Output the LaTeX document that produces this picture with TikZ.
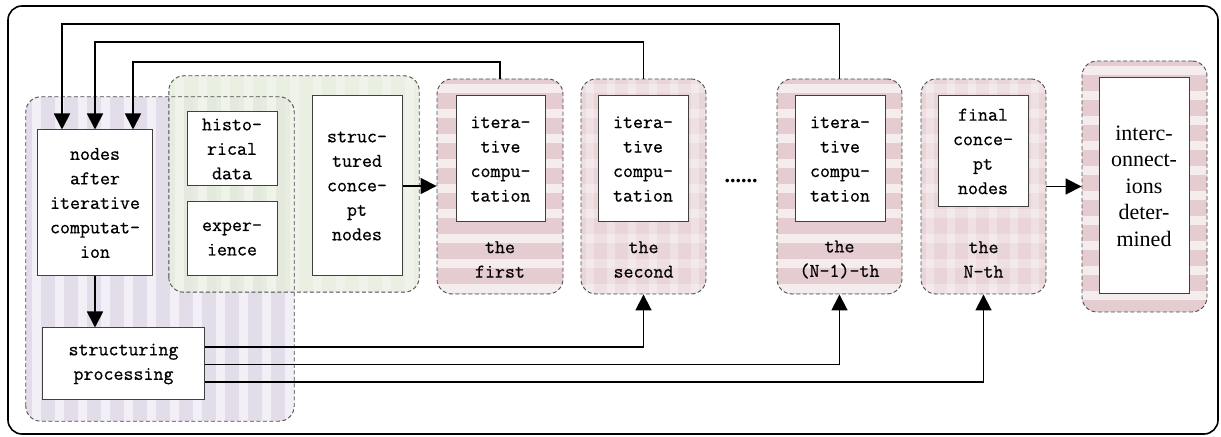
\documentclass[tikz,border=0pt]{standalone}
\usepackage{fontspec}
\newfontfamily\timesfont{Liberation Serif}
\newfontfamily\monoface[FakeBold=0.7]{Latin Modern Mono}
\usetikzlibrary{arrows.meta}

\definecolor{lilacA}{RGB}{226,221,233}
\definecolor{lilacB}{RGB}{242,239,246}
\definecolor{sageA}{RGB}{229,236,220}
\definecolor{sageB}{RGB}{241,245,236}
\definecolor{roseA}{RGB}{229,204,208}
\definecolor{roseB}{RGB}{245,236,238}
\definecolor{roseC}{RGB}{233,213,216}

\newcommand\mono{\monoface\fontsize{19.4bp}{24.5bp}\selectfont}
\newcommand\serifbig{\timesfont\fontsize{22bp}{26.5bp}\selectfont}

\tikzset{
  frame/.style={draw=black, line width=1.6bp, rounded corners=14bp},
  grpline/.style={draw=black!70, line width=0.9bp, dash pattern=on 4bp off 2.5bp, rounded corners=15bp},
  grp/.style={inner sep=0pt, rounded corners=15bp, draw=black!70, line width=0.9bp,
              dash pattern=on 4bp off 2.5bp},
  box/.style={draw=black!75, line width=1bp, fill=white, inner sep=0pt, align=center, font=\mono},
  lbl/.style={inner sep=0pt, align=center, font=\mono},
  conn/.style={line width=1.8bp, draw=black},
  arr/.style={conn, -{Triangle[length=16bp,width=16bp]}},
  % horizontal bands
  hbands/.style={fill=roseA, path picture={
      \foreach \k in {0,...,13}{
        \fill[roseB, sharp corners] ([yshift=-\k*25bp-5bp]path picture bounding box.north west)
          rectangle ([yshift=-\k*25bp-14bp]path picture bounding box.north east);
      }}},
  % vertical bands
  vbands/.style 2 args={fill=#1, path picture={
      \foreach \k in {0,...,14}{
        \fill[#2, sharp corners] ([xshift=\k*23bp+6bp]path picture bounding box.north west)
          rectangle ([xshift=\k*23bp+15bp]path picture bounding box.south west);
      }}},
  % checked pattern
  plaid/.style={fill=roseC, path picture={
      \foreach \k in {0,...,13}{
        \fill[white, opacity=0.3, sharp corners] ([yshift=-\k*25bp-5bp]path picture bounding box.north west)
          rectangle ([yshift=-\k*25bp-14bp]path picture bounding box.north east);
        \fill[white, opacity=0.3, sharp corners] ([xshift=\k*21bp+5bp]path picture bounding box.north west)
          rectangle ([xshift=\k*21bp+13bp]path picture bounding box.south west);
      }}},
}

\begin{document}
\begin{tikzpicture}[x=1bp,y=-1bp]
\useasboundingbox (0,0) rectangle (1221,437);

% outer frame
\draw[frame] (8,6) rectangle (1218,434);

% group backgrounds
\node[inner sep=0pt, rounded corners=15bp, vbands={lilacA}{lilacB},
      minimum width=268bp, minimum height=324bp] (G0) at (160,259) {};
\node[inner sep=0pt, rounded corners=15bp, fill opacity=0.85, vbands={sageA}{sageB},
      minimum width=250bp, minimum height=216bp] (G1) at (294,184) {};
\draw[grpline] (G0.south west) rectangle (G0.north east);
\draw[grpline] (G1.south west) rectangle (G1.north east);

\node[grp, hbands, minimum width=126bp, minimum height=215bp] (F1) at (500,186.5) {};
\node[grp, plaid,  minimum width=125bp, minimum height=215bp] (F2) at (643.5,186.5) {};
\node[grp, hbands, minimum width=125bp, minimum height=215bp] (F3) at (839.5,186.5) {};
\node[grp, plaid,  minimum width=125bp, minimum height=215bp] (F4) at (983.5,186.5) {};
\node[grp, hbands, minimum width=125bp, minimum height=251bp] (F5) at (1144.5,186.5) {};

% boxes of the preparation stage
\node[box, minimum width=114bp, minimum height=146bp] (A) at (95,203)
  {nodes\\after\\iterative\\computat-\\ion};
\node[box, minimum width=90bp, minimum height=74bp] (H) at (232,149)
  {histo-\\rical\\data};
\node[box, minimum width=90bp, minimum height=74bp] (E) at (232,239)
  {exper-\\ience};
\node[box, minimum width=90bp, minimum height=180bp] (S) at (357,186)
  {struc-\\tured\\conce-\\pt\\nodes};
\node[box, minimum width=161bp, minimum height=72bp] (P) at (123.5,364)
  {structuring\\processing};

% iteration stages
\node[box, minimum width=89bp, minimum height=126bp] (I1) at (500.5,159)
  {itera-\\tive\\compu-\\tation};
\node[box, minimum width=90bp, minimum height=126bp] (I2) at (643,159)
  {itera-\\tive\\compu-\\tation};
\node[box, minimum width=90bp, minimum height=126bp] (I3) at (840,159)
  {itera-\\tive\\compu-\\tation};
\node[box, minimum width=90bp, minimum height=111bp] (I4) at (983,151.5)
  {final\\conce-\\pt\\nodes};
\node[box, font=\serifbig, minimum width=90bp, minimum height=216bp] (I5) at (1144,186)
  {interc-\\onnect-\\ions\\deter-\\mined};

\node[lbl] (L1) at (500,259.5) {the\\first};
\node[lbl] (L2) at (643.5,259.5) {the\\second};
\node[lbl] (L3) at (839.5,259.5) {the\\(N-1)-th};
\node[lbl] (L4) at (983.5,259.5) {the\\N-th};

\node[inner sep=0pt, font=\serifbig\bfseries] (D) at (741,181) {......};

% feedback routes above
\coordinate (t1) at (62,24);
\coordinate (t2) at (95,42);
\coordinate (t3) at (133,62);
\draw[arr] (F3.north) |- (t1) -- (t1 |- A.north);
\draw[arr] (F2.north) |- (t2) -- (t2 |- A.north);
\draw[arr] (F1.north) |- (t3) -- (t3 |- A.north);

% forward flow
\draw[arr] (A.south) -- (A.south |- P.north);
\draw[arr] (S.east) -- (S.east -| F1.west);
\draw[arr] (F4.east) -- (F4.east -| F5.west);

% routes from the structuring step below
\coordinate (b1) at (0,347);
\coordinate (b2) at (0,364.5);
\coordinate (b3) at (0,382);
\draw[arr] (P.east |- b1) -| (F2.south);
\draw[arr] (P.east |- b2) -| (F3.south);
\draw[arr] (P.east |- b3) -| (F4.south);
\end{tikzpicture}
\end{document}
